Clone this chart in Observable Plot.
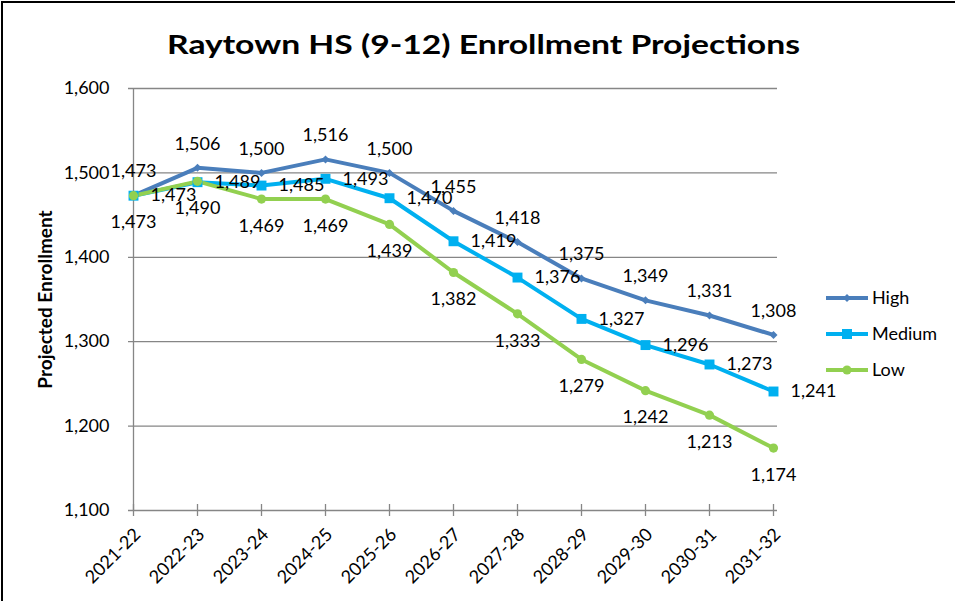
<!DOCTYPE html>
<html><head><meta charset="utf-8">
<script src="https://cdn.jsdelivr.net/npm/d3@7"></script>
<script src="https://cdn.jsdelivr.net/npm/@observablehq/plot@0.6"></script>
<style>
html,body{margin:0;padding:0;background:#fff;}
#wrap{position:relative;width:955px;height:601px;overflow:hidden;font-family:Lato,"DejaVu Sans",sans-serif;}
#wrap > svg{position:absolute;left:0;top:0;}
#border{position:absolute;left:1px;top:1px;width:980px;height:640px;border-top:2px solid #000;border-left:2px solid #000;}
</style></head>
<body><div id="wrap"><div id="border"></div></div>
<script>
const years = ["2021-22","2022-23","2023-24","2024-25","2025-26","2026-27","2027-28","2028-29","2029-30","2030-31","2031-32"];
const high = [1473,1506,1500,1516,1500,1455,1418,1375,1349,1331,1308];
const medium = [1473,1489,1485,1493,1470,1419,1376,1327,1296,1273,1241];
const low = [1473,1490,1469,1469,1439,1382,1333,1279,1242,1213,1174];
const seriesNames = ["High","Medium","Low"];
const seriesColors = ["#4A7EBB","#00B0F0","#92D050"];
const yTicks = [1100,1200,1300,1400,1500,1600];
const titleText = "Raytown HS (9-12) Enrollment Projections";
const yLabel = "Projected Enrollment";

const seriesValues = [high, medium, low];
const rows = [];
seriesNames.forEach((s, k) => years.forEach((y, i) => rows.push({series: s, year: y, value: seriesValues[k][i]})));
const bySeries = s => rows.filter(d => d.series === s);
const fmt = d3.format(",");

const chart = Plot.plot({
  width: 955, height: 601,
  marginLeft: 128, marginRight: 178, marginTop: 88, marginBottom: 91,
  x: {type: "point", domain: years, padding: 0},
  y: {domain: [1100, 1600]},
  color: {domain: seriesNames, range: seriesColors},
  style: {fontFamily: "Lato, 'DejaVu Sans', sans-serif", fontSize: "18px", background: "transparent", color: "#000"},
  marks: [
    Plot.gridY(yTicks, {stroke: "#868686", strokeOpacity: 1, strokeWidth: 1.3}),
    Plot.ruleX([years[0]], {stroke: "#868686", strokeWidth: 1.3}),
    Plot.axisY(yTicks, {tickFormat: fmt, tickSize: 0, tickPadding: 19, label: null, fontSize: 18}),
    Plot.axisX({tickSize: 6, tickFormat: () => "", stroke: "#868686", strokeWidth: 1.3, label: null}),
    Plot.axisX({tickSize: 6, tickFormat: () => "", stroke: "#868686", strokeWidth: 1.3, label: null, dy: -6}),
    Plot.axisX({tickSize: 0, tickRotate: -45, tickPadding: 21, dx: 4, label: null, fontSize: 18}),
    Plot.text([yLabel], {frameAnchor: "left", textAnchor: "middle", rotate: -90, dx: -83, fontWeight: "bold", fontSize: 19}),
    Plot.line(rows, {x: "year", y: "value", z: "series", stroke: "series", strokeWidth: 4}),
    Plot.dot(bySeries("High"), {x: "year", y: "value", symbol: "diamond2", fill: seriesColors[0], r: 3.6}),
    Plot.dot(bySeries("Medium"), {x: "year", y: "value", symbol: "square", fill: seriesColors[1], r: 5.6}),
    Plot.dot(bySeries("Low"), {x: "year", y: "value", symbol: "circle", fill: seriesColors[2], r: 4.6}),
    Plot.text(bySeries("High"), {x: "year", y: "value", text: d => fmt(d.value), dy: -24, fill: "#000"}),
    Plot.text(bySeries("Medium"), {x: "year", y: "value", text: d => fmt(d.value), dx: 17, textAnchor: "start", fill: "#000"}),
    Plot.text(bySeries("Low"), {x: "year", y: "value", text: d => fmt(d.value), dy: 27, fill: "#000"})
  ]
});
document.getElementById("wrap").appendChild(chart);

// Overlay: title and legend
const ov = d3.select("#wrap").append("svg").attr("width", 955).attr("height", 601)
  .style("position", "absolute").style("left", 0).style("top", 0)
  .style("font-family", "Lato, 'DejaVu Sans', sans-serif");
ov.append("text").attr("x", 167).attr("y", 53.5).attr("font-size", 27).attr("font-weight", "bold")
  .attr("textLength", 633).attr("lengthAdjust", "spacingAndGlyphs").text(titleText);

const legendYs = [298, 334, 370];
const symbolsList = [d3.symbolDiamond2, d3.symbolSquare, d3.symbolCircle];
const symSizes = [40, 100, 66];
seriesNames.forEach((s, k) => {
  const g = ov.append("g").attr("transform", `translate(0,${legendYs[k]})`);
  g.append("line").attr("x1", 826).attr("x2", 868).attr("stroke", seriesColors[k]).attr("stroke-width", 4);
  g.append("path").attr("transform", "translate(847,0)").attr("d", d3.symbol(symbolsList[k], symSizes[k])()).attr("fill", seriesColors[k]);
  g.append("text").attr("x", 872).attr("dy", "0.35em").attr("font-size", 18).text(s);
});
</script>
</body></html>
